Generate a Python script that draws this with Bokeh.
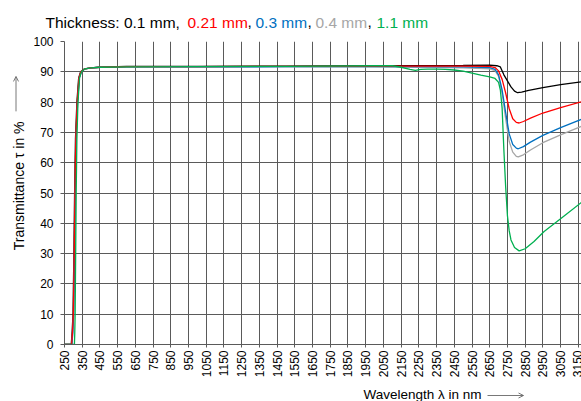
import math
from bokeh.plotting import figure
from bokeh.layouts import column, row
from bokeh.models import Arrow, OpenHead, FixedTicker, Range1d
from bokeh.core.properties import value
from bokeh.embed import file_html
from bokeh.resources import INLINE

# ---------------- data ----------------
wl_01 = [250, 288, 293, 298, 303, 307, 312, 320, 330, 341, 363, 400, 450, 600, 1000, 1500, 2000, 2500, 2650, 2690,
         2710, 2730, 2750, 2770, 2790, 2807, 2830, 2870, 2950, 3050, 3168]
t_01 = [0, 0, 4, 10, 30, 50, 68, 80, 88, 90, 91, 91.3, 91.5, 91.8, 91.8, 91.9, 92.0, 92.1, 92.2, 92.0,
        91.6, 89.0, 87.0, 85.0, 83.6, 83.1, 83.3, 83.9, 84.8, 85.8, 86.7]

wl_021 = [250, 290, 295, 300, 305, 309, 314, 322, 332, 343, 365, 400, 450, 600, 1000, 1500, 2000, 2500, 2650, 2680,
          2700, 2720, 2740, 2760, 2780, 2800, 2816, 2840, 2880, 2950, 3050, 3168]
t_021 = [0, 0, 4, 10, 30, 50, 68, 80, 88, 90, 91, 91.3, 91.5, 91.7, 91.7, 91.8, 91.9, 91.9, 91.8, 91.4,
         90.3, 87.5, 83.0, 77.8, 74.5, 73.3, 73.1, 73.6, 74.7, 76.4, 78.2, 80.1]

wl_03 = [250, 292, 297, 302, 307, 311, 316, 324, 334, 345, 366, 400, 450, 600, 1000, 1500, 2000, 2500, 2650, 2680,
         2700, 2720, 2740, 2760, 2780, 2800, 2811, 2840, 2880, 2950, 3050, 3168]
t_03 = [0, 0, 4, 10, 30, 50, 68, 80, 88, 90, 91, 91.3, 91.5, 91.6, 91.6, 91.7, 91.8, 91.6, 91.4, 90.8,
        89.0, 84.0, 76.5, 69.5, 66.0, 64.8, 64.6, 65.3, 66.8, 69.0, 71.6, 74.3]

wl_04 = [250, 291, 296, 301, 306, 310, 315, 323, 333, 344, 365, 400, 450, 600, 1000, 1500, 2000, 2500, 2650, 2680,
         2700, 2720, 2740, 2760, 2780, 2800, 2811, 2840, 2880, 2950, 3050, 3168]
t_04 = [0, 0, 4, 10, 30, 50, 68, 80, 88, 90, 91, 91.3, 91.5, 91.6, 91.6, 91.7, 91.6, 91.3, 91.0, 90.4,
        88.5, 83.0, 74.5, 67.0, 63.5, 62.1, 61.9, 62.6, 64.2, 66.6, 69.2, 72.0]

wl_11 = [250, 306, 308, 310, 313, 316, 320, 326, 335, 346, 365, 400, 450, 600, 1000, 1500, 2000, 2100, 2150, 2200,
         2230, 2260, 2300, 2350, 2400, 2450, 2500, 2550, 2600, 2650, 2680, 2700, 2710, 2720, 2730, 2740, 2750,
         2760, 2770, 2790, 2816, 2850, 2900, 2957, 3050, 3168]
t_11 = [0, 0, 4, 10, 30, 50, 68, 80, 88, 90, 91, 91.3, 91.5, 91.6, 91.7, 91.8, 92.0, 92.0, 91.5, 90.8,
        90.5, 90.8, 90.9, 90.9, 90.8, 90.6, 90.2, 89.6, 88.9, 88.3, 87.8, 86.5, 84.0, 78.0, 64.0, 52.0, 42.5,
        37.5, 34.5, 32.0, 30.9, 31.6, 34.0, 37.3, 41.5, 46.9]

x_ticks = [250 + 100 * i for i in range(30)]
y_ticks = [0, 10, 20, 30, 40, 50, 60, 70, 80, 90, 100]

title_parts = ["Thickness: 0.1 mm,", "0.21 mm", ",", "0.3 mm", ",", "0.4 mm", ",", "1.1 mm"]
title_colors = ["#000000", "#ff0000", "#000000", "#0070c0", "#000000", "#a6a6a6", "#000000", "#00b050"]

x_title = "Wavelength \u03bb in nm"
y_title = "Transmittance \u03c4 in %"

FONT = "Liberation Sans"
GRID = "#5a5a5a"
ARROW = "#555555"


def blank(w, h):
    f = figure(width=w, height=h, output_backend="svg", toolbar_location=None,
               x_range=Range1d(0, w), y_range=Range1d(0, h),
               x_axis_type=None, y_axis_type=None,
               min_border_left=0, min_border_right=0, min_border_top=0, min_border_bottom=0)
    f.outline_line_color = None
    f.background_fill_color = "white"
    f.border_fill_color = "white"
    return f


# ---------------- header (page y 0..33) ----------------
HEAD_H = 33
head = blank(581, HEAD_H)
title_x = [45, 187, 247, 255, 307, 315, 367, 376]
head.text(x=title_x, y=[11.5] * len(title_x), text=title_parts, text_color=title_colors,
          text_font=value(FONT), text_font_size=value("15.5px"),
          text_baseline="alphabetic", text_align="left")

# ---------------- main chart (page y 33..380) ----------------
MAIN_W, MAIN_H = 551, 347
X0, X1 = 250, 3168
p = figure(width=MAIN_W, height=MAIN_H, output_backend="svg", toolbar_location=None,
           x_range=Range1d(X0, X1), y_range=Range1d(0, 100),
           min_border_left=31, min_border_right=0, min_border_top=8, min_border_bottom=35)
p.outline_line_color = None
p.background_fill_color = "white"
p.border_fill_color = "white"

for g in (p.xgrid, p.ygrid):
    g.grid_line_color = GRID
    g.grid_line_width = 1
p.xgrid.ticker = FixedTicker(ticks=x_ticks)
p.ygrid.ticker = FixedTicker(ticks=y_ticks)

xa = p.xaxis[0]
xa.ticker = FixedTicker(ticks=x_ticks)
xa.major_label_orientation = math.pi / 2
xa.major_tick_out = 3
xa.major_tick_in = 0
xa.minor_tick_out = 0
xa.major_label_standoff = 3
ya = p.yaxis[0]
ya.ticker = FixedTicker(ticks=y_ticks)
ya.major_tick_out = 4
ya.major_tick_in = 0
ya.minor_tick_out = 0
ya.major_label_standoff = 7
for a in (xa, ya):
    a.axis_line_color = GRID
    a.major_tick_line_color = GRID
    a.major_label_text_font = FONT
    a.major_label_text_font_size = "12px"
    a.major_label_text_color = "#000000"

series = [(wl_01, t_01, "#000000"), (wl_04, t_04, "#a6a6a6"), (wl_03, t_03, "#0070c0"),
          (wl_021, t_021, "#ff0000"), (wl_11, t_11, "#00b050")]
for wl, t, c in series:
    p.line(wl, t, line_color=c, line_width=1.3)

# ---------------- y title strip (page x 0..30, y 33..380) ----------------
YF_W = 30
yfig = blank(YF_W, MAIN_H)
yfig.text(x=[18], y=[108], text=[y_title], angle=math.pi / 2,
          text_font=value(FONT), text_font_size=value("14px"),
          text_baseline="middle", text_align="left", text_color="#000000")
yfig.add_layout(Arrow(x_start=15.5, y_start=380 - 113, x_end=15.5, y_end=380 - 73,
                      line_color=ARROW, line_width=0.8,
                      end=OpenHead(size=5, line_color=ARROW, line_width=0.8)))

# ---------------- footer (page y 380..401) ----------------
FOOT_H = 21
foot = blank(581, FOOT_H)
foot.text(x=[363], y=[7.5], text=[x_title], text_font=value(FONT),
          text_font_size=value("13.5px"), text_baseline="alphabetic", text_align="left",
          text_color="#000000")
foot.add_layout(Arrow(x_start=487, y_start=401 - 395, x_end=523, y_end=401 - 395,
                      line_color=ARROW, line_width=0.8,
                      end=OpenHead(size=5, line_color=ARROW, line_width=0.8)))

layout = column(head, row(yfig, p, spacing=0), foot, spacing=0)

open("out.html", "w").write(file_html(layout, INLINE))
